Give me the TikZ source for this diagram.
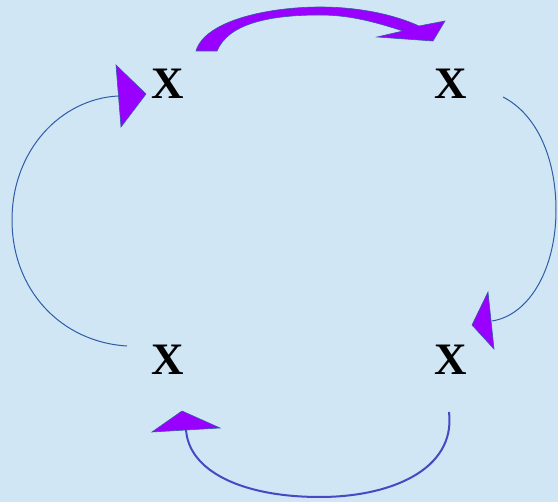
\documentclass[tikz,border=0pt]{standalone}
\usepackage{fontspec}
\setmainfont{Liberation Serif}
\usetikzlibrary{positioning}

\definecolor{paleblue}{RGB}{208,230,244}
\definecolor{headfill}{RGB}{153,0,255}
\definecolor{linkblue}{RGB}{46,92,166}
\definecolor{linkindigo}{RGB}{72,72,196}

\begin{document}
\begin{tikzpicture}[
        x=1pt, y=-1pt,
        letter/.style={
            inner sep=0pt,
            font=\fontsize{45}{54}\selectfont\bfseries
        },
        link/.style={
            draw=linkblue,
            line width=1pt
        },
        thicklink/.style={
            draw=linkindigo,
            line width=2pt
        },
        head/.style={
            fill=headfill,
            draw=linkblue,
            line width=0.6pt
        },
        node distance=276pt and 283pt,
        on grid
    ]

        \fill[paleblue] (0,0) rectangle (558,502);

        \node[letter] (tl) at (168,84) {X};
        \node[letter, right=of tl] (tr) {X};
        \node[letter, below=of tl] (bl) {X};
        \node[letter, below=of tr] (br) {X};

        \coordinate (lstart) at (127,346);
        \coordinate (lend) at (118,96);
        \coordinate (rstart) at (503,97);
        \coordinate (rend) at (492,321);
        \coordinate (bstart) at (449,412);
        \coordinate (bend) at (186,429);

        \draw[head]
            (196,51) .. controls (205,20) and (270,7) .. (320,7)
            .. controls (360,7) and (395,15) .. (419,26)
            -- (445,21) -- (433,41) -- (377,37) -- (403,31)
            .. controls (375,22) and (350,15) .. (320,15)
            .. controls (265,15) and (228,25) .. (217,51)
            -- cycle;

        \draw[link] (rstart)
            .. controls (538,115) and (556,160) .. (556,210)
            .. controls (556,268) and (530,315) .. (rend);
        \draw[head] (488,292) -- (472,325) -- (494,349) -- cycle;

        \draw[thicklink] (bstart)
            .. controls (456,470) and (390,497) .. (320,497)
            .. controls (240,497) and (188,470) .. (bend);
        \draw[head] (152,432) -- (182,411) -- (220,428) -- cycle;

        \draw[link] (lstart)
            .. controls (61,342) and (12,290) .. (12,220)
            .. controls (12,150) and (61,99) .. (lend);
        \draw[head] (116,65) -- (146,94) -- (121,127) -- cycle;

    \end{tikzpicture}
\end{document}
